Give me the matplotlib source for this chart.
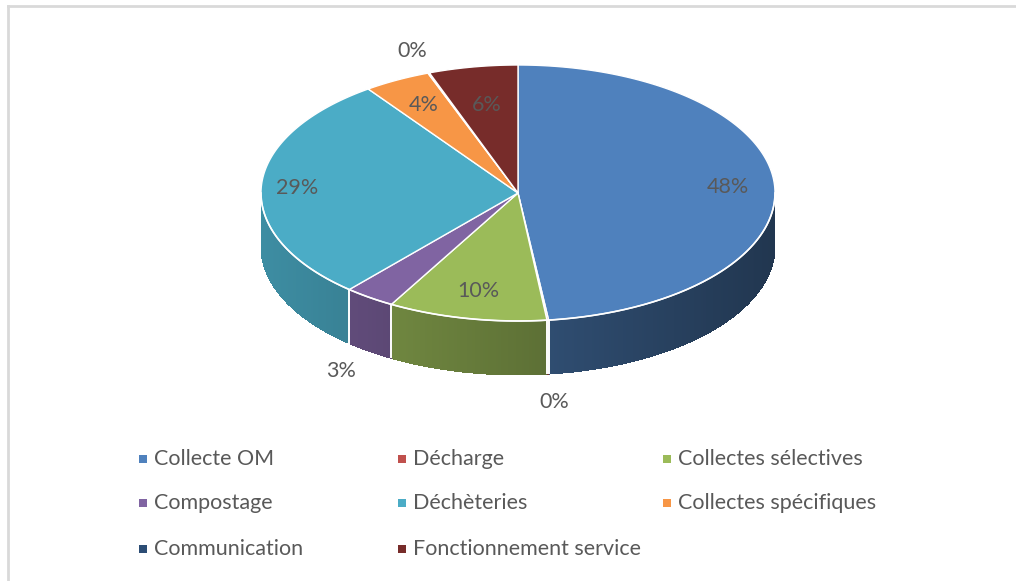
import numpy as np
import matplotlib
matplotlib.use('Agg')
import matplotlib.pyplot as plt
from matplotlib.patches import Polygon
from matplotlib.colors import to_rgb

categories = ['Collecte OM', 'Décharge', 'Collectes sélectives', 'Compostage',
              'Déchèteries', 'Collectes spécifiques', 'Communication',
              'Fonctionnement service']
values = [48.1, 0.1, 10.0, 3.2, 28.7, 4.2, 0.1, 5.6]
colors = ['#4F81BD', '#C0504D', '#9BBB59', '#8064A2', '#4BACC6', '#F79646',
          '#2C4D75', '#772C2A']
label_r = [0.82, 1.22, 0.78, 1.19, 0.86, 0.78, 1.18, 0.70]

plt.rcParams['font.family'] = ['Lato', 'DejaVu Sans']
TXT = '#595959'

W, H = 1016, 581
fig = plt.figure(figsize=(W / 100, H / 100), dpi=100)
ax = fig.add_axes([0, 0, 1, 1])
ax.set_xlim(0, W)
ax.set_ylim(H, 0)
ax.axis('off')

cx, cy, a, b, depth = 518, 193, 257, 128, 54

fr = np.array(values) / sum(values)
ends = np.cumsum(fr) * 2 * np.pi
starts = np.concatenate([[0], ends[:-1]])


def pt(t, r=1.0):
    return cx + a * r * np.sin(t), cy - b * r * np.cos(t)


def shade(c, f):
    r, g, bb = to_rgb(c)
    return (r * f, g * f, bb * f)


# side walls (front half only)
for t1, t2, col in zip(starts, ends, colors):
    s1, s2 = max(t1, np.pi / 2), min(t2, 3 * np.pi / 2)
    if s2 <= s1:
        continue
    n = max(2, int((s2 - s1) / 0.01))
    ts = np.linspace(s1, s2, n + 1)
    for i in range(n):
        x1, y1 = pt(ts[i])
        x2, y2 = pt(min(ts[i + 1] + 0.004, s2))
        xm = (x1 + x2) / 2
        xn = (xm - cx) / a
        f = 0.62 - 0.2 * xn
        c = shade(col, f)
        ax.add_patch(Polygon([(x1, y1), (x2, y2), (x2, y2 + depth), (x1, y1 + depth)],
                             closed=True, facecolor=c, edgecolor='none', lw=0,
                             antialiased=False))
    # white boundaries
    for tb in (s1, s2):
        if np.pi / 2 < tb < 3 * np.pi / 2:
            xb, yb = pt(tb)
            ax.plot([xb, xb], [yb, yb + depth], color='white', lw=1.2, solid_capstyle='butt')

# top face wedges
for t1, t2, col in zip(starts, ends, colors):
    ts = np.linspace(t1, t2, max(2, int((t2 - t1) / 0.005)))
    xs, ys = pt(ts)
    verts = [(cx, cy)] + list(zip(xs, ys))
    ax.add_patch(Polygon(verts, closed=True, facecolor=col, edgecolor='white',
                         lw=1.0, joinstyle='round'))

# rim highlight along front edge
tr = np.linspace(np.pi / 2, 3 * np.pi / 2, 300)
xr, yr = pt(tr)
ax.plot(xr, yr, color='white', lw=1.2)

# data labels
for t1, t2, v, r in zip(starts, ends, fr, label_r):
    tm = (t1 + t2) / 2
    x, y = pt(tm, r)
    if r > 1 and np.cos(tm) < 0:
        y += depth
    ax.text(x, y, f'{round(v * 100):.0f}%', ha='center', va='center',
            fontsize=15.5, color=TXT)

# legend (row-major, 3 columns)
col_x = [143, 402, 667]
row_y = [459, 503, 549]
for i, (name, col) in enumerate(zip(categories, colors)):
    rr, cc = divmod(i, 3)
    ax.scatter([col_x[cc]], [row_y[rr]], marker='s', s=36, color=col, lw=0)
    ax.text(col_x[cc] + 11, row_y[rr], name, ha='left', va='center',
            fontsize=15.5, color=TXT)

# chart area border
ax.plot([8, 8], [6, H], color='#D9D9D9', lw=2)
ax.plot([8, W], [6, 6], color='#D9D9D9', lw=2)

fig.savefig('out.png', dpi=100)
